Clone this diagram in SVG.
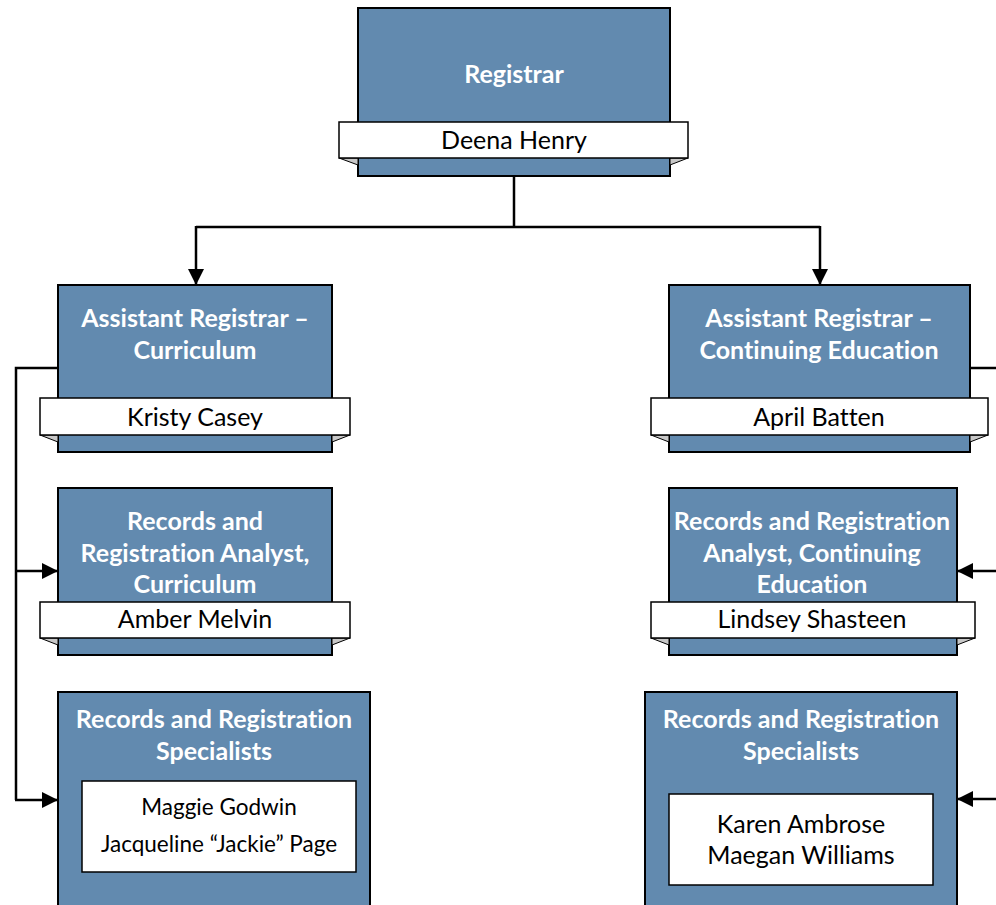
<svg xmlns="http://www.w3.org/2000/svg" width="996" height="905" viewBox="0 0 996 905">
<defs>
<style>
.box{fill:#628aaf;stroke:#000;stroke-width:2}
.rib{fill:#fff;stroke:#000;stroke-width:1.5}
.fold{fill:#c8c8c8;stroke:#000;stroke-width:1}
.inner{fill:#fff;stroke:#000;stroke-width:1.5}
text{font-variant-ligatures:none;font-feature-settings:"liga" 0}
.t{font-family:Lato,"Liberation Sans",sans-serif;font-weight:bold;font-size:25px;fill:#fff;text-anchor:middle}
.n{font-family:Lato,"Liberation Sans",sans-serif;font-size:25px;fill:#000;text-anchor:middle}
.ns{font-family:Lato,"Liberation Sans",sans-serif;font-size:22.5px;fill:#000;text-anchor:middle}
.c{fill:none;stroke:#000;stroke-width:2.5}
</style>
<marker id="arr" viewBox="0 0 16 16" refX="16" refY="8" markerWidth="17" markerHeight="16" markerUnits="userSpaceOnUse" orient="auto">
<path d="M0,0 L16,8 L0,16 z" fill="#000"/>
</marker>
</defs>

<g id="connectors">
<path class="c" d="M514,176 V227"/>
<path class="c" d="M196,227 H820"/>
<path class="c" d="M196,226 V285" marker-end="url(#arr)"/>
<path class="c" d="M820,226 V285" marker-end="url(#arr)"/>
<path class="c" d="M58,368 H16 V800"/>
<path class="c" d="M15,571 H58" marker-end="url(#arr)"/>
<path class="c" d="M15,800 H58" marker-end="url(#arr)"/>
<path class="c" d="M970,368 H996"/>
<path class="c" d="M996,571 H957" marker-end="url(#arr)"/>
<path class="c" d="M996,799 H957" marker-end="url(#arr)"/>
</g>

<g id="registrar">
<rect class="box" x="358" y="8" width="312" height="168"/>
<path class="fold" d="M339,158 L358,158 L358,165 z"/>
<path class="fold" d="M688,158 L670,158 L670,165 z"/>
<rect class="rib" x="339" y="122" width="349" height="36"/>
<text class="t" x="514" y="83">Registrar</text>
<text class="n" x="514" y="149">Deena Henry</text>
</g>

<g id="asst-curriculum">
<rect class="box" x="58" y="285" width="274" height="167"/>
<path class="fold" d="M40,435 L58,435 L58,442 z"/>
<path class="fold" d="M350,435 L332,435 L332,442 z"/>
<rect class="rib" x="40" y="398" width="310" height="37"/>
<text class="t" x="195" y="327">Assistant Registrar –</text>
<text class="t" x="195" y="359">Curriculum</text>
<text class="n" x="195" y="426">Kristy Casey</text>
</g>

<g id="asst-ce">
<rect class="box" x="669" y="285" width="301" height="167"/>
<path class="fold" d="M651,435 L669,435 L669,442 z"/>
<path class="fold" d="M988,435 L970,435 L970,442 z"/>
<rect class="rib" x="651" y="398" width="337" height="37"/>
<text class="t" x="819" y="327">Assistant Registrar –</text>
<text class="t" x="819" y="359">Continuing Education</text>
<text class="n" x="819" y="426">April Batten</text>
</g>

<g id="analyst-curriculum">
<rect class="box" x="58" y="488" width="274" height="167"/>
<path class="fold" d="M40,638 L58,638 L58,645 z"/>
<path class="fold" d="M350,638 L332,638 L332,645 z"/>
<rect class="rib" x="40" y="602" width="310" height="36"/>
<text class="t" x="195" y="530">Records and</text>
<text class="t" x="195" y="562">Registration Analyst,</text>
<text class="t" x="195" y="593">Curriculum</text>
<text class="n" x="195" y="628">Amber Melvin</text>
</g>

<g id="analyst-ce">
<rect class="box" x="669" y="488" width="288" height="167"/>
<path class="fold" d="M651,638 L669,638 L669,645 z"/>
<path class="fold" d="M975,638 L957,638 L957,645 z"/>
<rect class="rib" x="651" y="602" width="324" height="36"/>
<text class="t" x="812" y="530">Records and Registration</text>
<text class="t" x="812" y="562">Analyst, Continuing</text>
<text class="t" x="812" y="593">Education</text>
<text class="n" x="812" y="628">Lindsey Shasteen</text>
</g>

<g id="specialists-curriculum">
<rect class="box" x="58" y="692" width="312" height="225"/>
<rect class="inner" x="82" y="781" width="274" height="91"/>
<text class="t" x="214" y="728">Records and Registration</text>
<text class="t" x="214" y="760">Specialists</text>
<text class="ns" x="219" y="815">Maggie Godwin</text>
<text class="ns" x="219" y="852">Jacqueline “Jackie” Page</text>
</g>

<g id="specialists-ce">
<rect class="box" x="645" y="692" width="312" height="225"/>
<rect class="inner" x="669" y="794" width="264" height="91"/>
<text class="t" x="801" y="728">Records and Registration</text>
<text class="t" x="801" y="760">Specialists</text>
<text class="n" x="801" y="833">Karen Ambrose</text>
<text class="n" x="801" y="864">Maegan Williams</text>
</g>
</svg>
